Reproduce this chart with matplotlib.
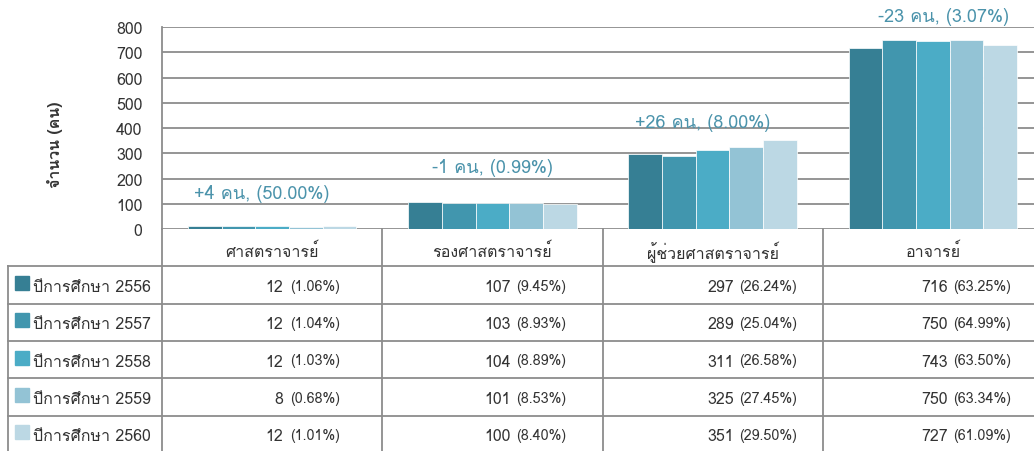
import matplotlib
matplotlib.use("Agg")
import matplotlib.pyplot as plt
from matplotlib.patches import Rectangle
import numpy as np

plt.rcParams['font.family'] = ['Loma', 'DejaVu Sans']

categories = ["ศาสตราจารย์", "รองศาสตราจารย์", "ผู้ช่วยศาสตราจารย์", "อาจารย์"]
years = ["ปีการศึกษา 2556", "ปีการศึกษา 2557", "ปีการศึกษา 2558",
         "ปีการศึกษา 2559", "ปีการศึกษา 2560"]
y2556 = [12, 107, 297, 716]
y2557 = [12, 103, 289, 750]
y2558 = [12, 104, 311, 743]
y2559 = [8, 101, 325, 750]
y2560 = [12, 100, 351, 727]
series = [y2556, y2557, y2558, y2559, y2560]
colors = ["#367f94", "#4196ae", "#4bacc6", "#93c3d5", "#bcd8e4"]

W, H = 1034, 452
grid_c = "#8c8c8c"
txt_c = "#333333"
note_c = "#4b93ab"

fig = plt.figure(figsize=(W / 100, H / 100), dpi=100)

# chart area (right part is cut off by the figure edge like the original)
ax_l, ax_r, ax_t, ax_b = 162, 1043, 28, 230
ax = fig.add_axes([ax_l / W, (H - ax_b) / H, (ax_r - ax_l) / W, (ax_b - ax_t) / H])
px = (ax_r - ax_l) / 4.0  # pixels per category

n = len(series)
bw = 0.764 / n
x = np.arange(len(categories))
for i, vals in enumerate(series):
    ax.bar(x + (i - (n - 1) / 2) * bw, vals, bw, color=colors[i],
           edgecolor="white", linewidth=0.5, zorder=3)

ax.set_xlim(-0.5, 3.5)
ax.set_ylim(0, 800)
ax.set_yticks(range(0, 801, 100))
ax.set_xticks([])
ax.grid(axis="y", color=grid_c, linewidth=1.3, zorder=0)
for s in ["top", "right", "bottom"]:
    ax.spines[s].set_visible(False)
ax.spines["left"].set_color(grid_c)
ax.spines["left"].set_linewidth(1.3)
ax.tick_params(axis="y", length=0, pad=14, labelsize=11.5, labelcolor=txt_c)
fig.text(55 / W, 1 - 145 / H, "จำนวน (คน)", rotation=90, ha="center", va="center",
         fontsize=11.5, fontweight="bold", color=txt_c)

# change between last two years
note_y = [105, 208, 388, 808]
note_dx = [-10, 0, -10, 11]
for j in range(len(categories)):
    d = y2560[j] - y2559[j]
    pct = abs(d) / y2559[j] * 100
    label = "%+d คน, (%.2f%%)" % (d, pct)
    ax.text(x[j] + note_dx[j] / px, note_y[j], label, ha="center", va="bottom",
            fontsize=13, color=note_c, clip_on=False)

# data table
leg_w = 154
tab_t, tab_b, tab_l = 230, 454, 8
tab = fig.add_axes([tab_l / W, (H - tab_b) / H, (ax_r - tab_l) / W, (tab_b - tab_t) / H])
xmin = -0.5 - leg_w / px
tab.set_xlim(xmin, 3.5)
tab.set_ylim(6, 0)
tab.axis("off")

lw = 1.3
for xb in np.arange(-0.5, 3.6, 1.0):
    tab.plot([xb, xb], [0, 6], color=grid_c, lw=lw, clip_on=False)
tab.plot([xmin, xmin], [1, 6], color=grid_c, lw=lw, clip_on=False)
for r in range(1, 6):
    tab.plot([xmin, 3.5], [r, r], color=grid_c, lw=lw, clip_on=False)

for j, c in enumerate(categories):
    tab.text(x[j], 0.6, c, ha="center", va="center", fontsize=11.5, color=txt_c)

totals = [sum(v[j] for j in range(len(categories))) for v in series]
num_dx = [11, 18, 21, 15]
gap = [7, 6, 5, 5]
for i, vals in enumerate(series):
    r = i + 1.5
    tab.add_patch(Rectangle((xmin + 7 / px, r - 0.05 - 7 / 37.3), 14 / px, 14 / 37.3,
                            color=colors[i], clip_on=False))
    tab.text(xmin + 25 / px, r + 0.05, years[i], ha="left", va="center",
             fontsize=11.5, color=txt_c)
    for j, v in enumerate(vals):
        xn = x[j] + num_dx[j] / px
        tab.text(xn, r + 0.05, str(v), ha="right", va="center", fontsize=11.5, color=txt_c)
        tab.text(xn + gap[j] / px, r + 0.02, "(%.2f%%)" % (v / totals[i] * 100), ha="left",
                 va="center", fontsize=10.3, color=txt_c)

fig.savefig("out.png", dpi=100)
